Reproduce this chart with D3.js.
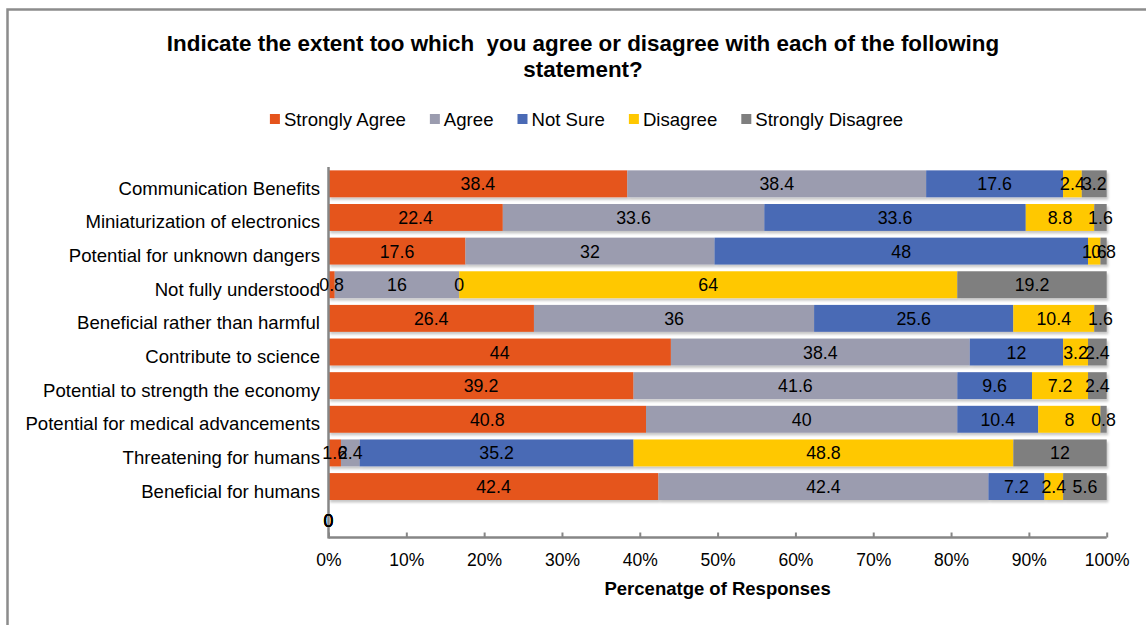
<!DOCTYPE html>
<html>
<head>
<meta charset="utf-8">
<script src="https://cdn.jsdelivr.net/npm/d3@7"></script>
<style>
  body { margin: 0; background: #fff; }
  text { font-family: "Liberation Sans", Arial, sans-serif; fill: #000; }
</style>
</head>
<body>
<div id="chart"></div>
<script>
// categories, top to bottom (last one is an empty row in the original)
var categories = ["Communication Benefits",
    "Miniaturization of electronics",
    "Potential for unknown dangers",
    "Not fully understood",
    "Beneficial rather than harmful",
    "Contribute to science",
    "Potential to strength the economy",
    "Potential for medical advancements",
    "Threatening for humans",
    "Beneficial for humans",
    ""]

var series = ["Strongly Agree", "Agree", "Not Sure", "Disagree", "Strongly Disagree"]
var colors = ["#E5541C", "#9B9CAF", "#4A6AB5", "#FFC800", "#7F7F7F"]

var stronglyAgree    = [38.4, 22.4, 17.6, 0.8, 26.4, 44, 39.2, 40.8, 1.6, 42.4, 0]
var agree            = [38.4, 33.6, 32, 16, 36, 38.4, 41.6, 40, 2.4, 42.4, 0]
var notSure          = [17.6, 33.6, 48, 0, 25.6, 12, 9.6, 10.4, 35.2, 7.2, 0]
var disagree         = [2.4, 8.8, 1.6, 64, 10.4, 3.2, 7.2, 8, 48.8, 2.4, 0]
var stronglyDisagree = [3.2, 1.6, 0.8, 19.2, 1.6, 2.4, 2.4, 0.8, 12, 5.6, 0]

var xTicks = [0, 10, 20, 30, 40, 50, 60, 70, 80, 90, 100]

var width = 1146, height = 625;

var svg = d3.select("#chart").append("svg")
    .attr("width", width)
    .attr("height", height);

var defs = svg.append("defs");
var shadow = defs.append("filter").attr("id", "shadow")
    .attr("x", "-5%").attr("y", "-20%").attr("width", "110%").attr("height", "150%");
shadow.append("feDropShadow")
    .attr("dx", 1.5).attr("dy", 2.5).attr("stdDeviation", 1.2)
    .attr("flood-color", "#000").attr("flood-opacity", 0.22);

// frame (only top and left edges are visible in the picture)
svg.append("path")
    .attr("d", "M7.5,630 V9.5 H1150")
    .attr("fill", "none")
    .attr("stroke", "#8c8c8c")
    .attr("stroke-width", 2.5);

// title
var title = svg.append("text")
    .attr("text-anchor", "middle")
    .attr("xml:space", "preserve")
    .style("font-weight", "bold")
    .style("font-size", "22.4px");
title.append("tspan").attr("x", 583).attr("y", 51)
    .text("Indicate the extent too which  you agree or disagree with each of the following");
title.append("tspan").attr("x", 583).attr("y", 77).text("statement?");

var x = d3.scaleLinear().domain([0, 100]).range([328.5, 1106.7]);
var y = d3.scaleBand().domain(d3.range(categories.length))
    .range([167, 537]).paddingInner(0.2).paddingOuter(0.1);

// build rows for the stack
var rows = categories.map(function (c, i) {
    return {
        cat: c,
        "Strongly Agree": stronglyAgree[i],
        "Agree": agree[i],
        "Not Sure": notSure[i],
        "Disagree": disagree[i],
        "Strongly Disagree": stronglyDisagree[i]
    };
});
var stacked = d3.stack().keys(series)(rows);

var bars = svg.append("g").attr("filter", "url(#shadow)");
stacked.forEach(function (layer, k) {
    bars.selectAll(".s" + k)
        .data(layer)
        .enter()
        .append("rect")
        .attr("x", function (d) { return x(d[0]); })
        .attr("y", function (d, i) { return y(i); })
        .attr("width", function (d) { return x(d[1]) - x(d[0]); })
        .attr("height", y.bandwidth())
        .attr("fill", colors[k]);
});

// axes
var xAxis = d3.axisBottom(x).tickValues(xTicks).tickSize(-5)
    .tickFormat(function (d) { return d + "%"; });
var gx = svg.append("g").attr("transform", "translate(0,537.5)").call(xAxis);
gx.select(".domain").attr("stroke", "#868686").attr("stroke-width", 2.5)
    .attr("d", "M" + x(0) + ",0H" + x(100));
gx.selectAll(".tick line").attr("stroke", "#868686").attr("stroke-width", 2);
gx.selectAll(".tick text")
    .attr("y", 16)
    .style("font-size", "17.5px")
    .style("font-family", "'Liberation Sans', Arial, sans-serif")
    .attr("fill", "#000");

svg.append("line")
    .attr("x1", x(0)).attr("x2", x(0))
    .attr("y1", 167).attr("y2", 538.5)
    .attr("stroke", "#868686").attr("stroke-width", 2.5);

svg.append("text")
    .attr("x", (x(0) + x(100)) / 2)
    .attr("y", 595)
    .attr("text-anchor", "middle")
    .style("font-weight", "bold")
    .style("font-size", "18.5px")
    .text("Percenatge of Responses");

// category labels
svg.append("g").selectAll("text")
    .data(categories)
    .enter()
    .append("text")
    .attr("x", 320)
    .attr("y", function (d, i) { return y(i) + y.bandwidth() / 2 + 11; })
    .attr("text-anchor", "end")
    .style("font-size", "18.6px")
    .text(function (d) { return d; });

// value labels
var labels = svg.append("g");
stacked.forEach(function (layer, k) {
    labels.selectAll(".l" + k)
        .data(layer)
        .enter()
        .append("text")
        .attr("x", function (d) { return x((d[0] + d[1]) / 2); })
        .attr("y", function (d, i) { return y(i) + y.bandwidth() / 2 + 6.5; })
        .attr("text-anchor", "middle")
        .style("font-size", "17.8px")
        .text(function (d) { return +(d[1] - d[0]).toFixed(1); });
});

// legend
var legend = svg.append("g");
var pos = 0;
series.forEach(function (s, k) {
    var item = legend.append("g").attr("transform", "translate(" + pos + ",0)");
    item.append("rect").attr("x", 0).attr("y", 114).attr("width", 10).attr("height", 10)
        .attr("fill", colors[k]);
    var t = item.append("text").attr("x", 14).attr("y", 125.5)
        .style("font-size", "18.6px").text(s);
    pos += 14 + t.node().getComputedTextLength() + 24;
});
var total = pos - 24;
legend.attr("transform", "translate(" + (586.5 - total / 2) + ",0)");
</script>
</body>
</html>
